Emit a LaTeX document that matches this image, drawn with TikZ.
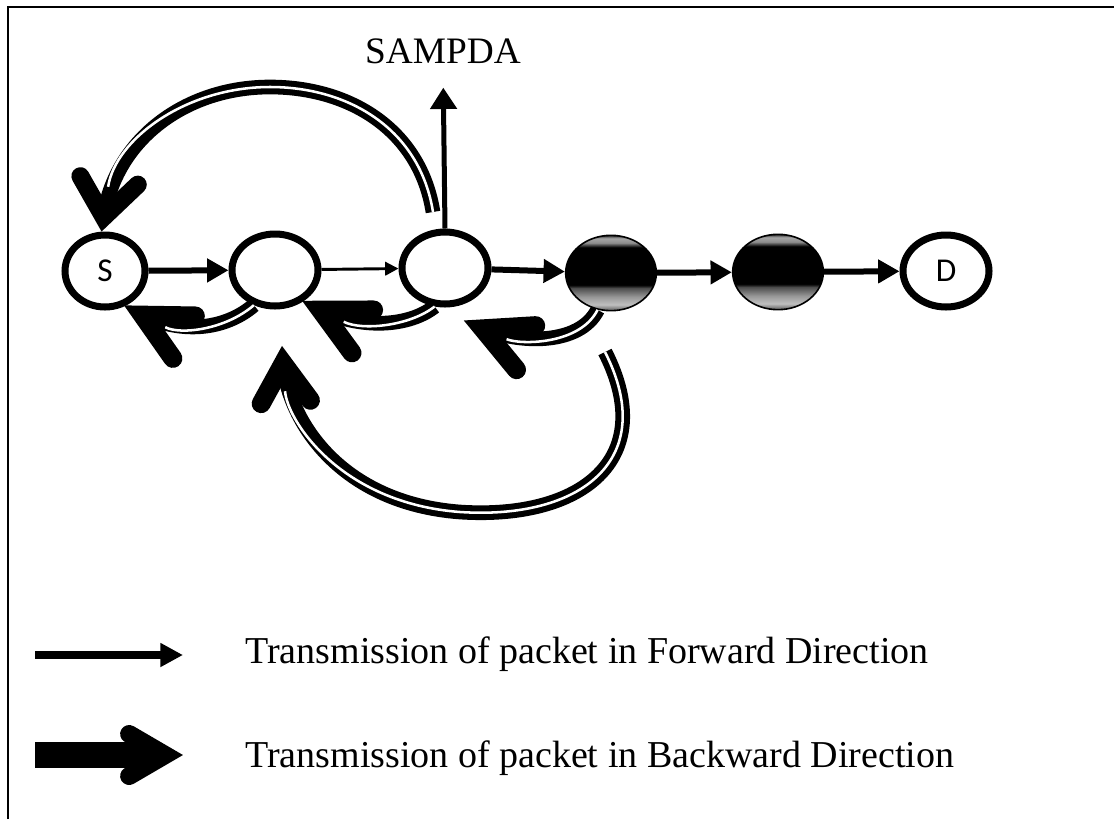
\documentclass[tikz,border=0pt]{standalone}
\usepackage{fontspec}
\setmainfont{Liberation Serif}
\newfontfamily\labelfont{Carlito}
\usetikzlibrary{arrows.meta,shapes.geometric,decorations.markings}

% dark shading for the two busy nodes: grey bands at the rims, black body
\pgfdeclareverticalshading{busyshade}{100bp}{%
  color(0bp)=(black); color(25bp)=(black); color(26bp)=(black!55);
  color(29bp)=(black!25); color(34bp)=(black!40); color(40bp)=(black!70);
  color(42bp)=(black); color(67bp)=(black); color(70bp)=(black!45);
  color(73bp)=(black!35); color(74.5bp)=(black!70); color(75bp)=(black);
  color(100bp)=(black)}

% a backward link: thick black band, thin white core, open barb at the end
\newcommand\backlink[2]{%
  \draw[band] #2;
  \draw[bandcore] #2;
  \path[#1] #2;}

\begin{document}
\begin{tikzpicture}[x=0.75pt, y=-0.75pt,
  peer/.style={ellipse, draw, line width=5.25pt, fill=white, inner sep=0pt,
    minimum width=64.5pt, minimum height=54pt,
    font=\labelfont\fontsize{25}{25}\selectfont},
  busy/.style={ellipse, draw, line width=1.2pt, shading=busyshade, inner sep=0pt,
    minimum width=68pt, minimum height=56.5pt},
  fwd/.style={line width=4.5pt, -{Triangle[length=16pt, width=17pt]}},
  fwdthin/.style={line width=2.2pt, -{Triangle[length=10pt, width=10pt]}},
  upward/.style={line width=3.75pt, -{Triangle[length=16pt, width=19.5pt]}, shorten >=18pt},
  band/.style={line width=11pt, shorten >=11pt},
  bandcore/.style={draw=white, line width=1.9pt, shorten >=34pt},
  % open barb: vertex offset, arm end x, arm half spread, stroke width
  barbtip/.style n args={4}{decorate, decoration={markings,
    mark=at position 0.9999 with {\draw[line width=#4, line cap=round, line join=miter]
      (#2,#3) -- (#1,0pt) -- (#2,-#3);}}},
  barbA/.style={barbtip={-14.7pt}{-50pt}{18pt}{14.25pt}},
  barbD/.style={barbtip={-13.1pt}{-42pt}{18.5pt}{14.25pt}},
  barbE/.style={barbtip={-11pt}{-38.8pt}{21.75pt}{13.5pt}},
  barbL/.style={barbtip={-13.4pt}{-40.4pt}{15.75pt}{13.5pt}},
  frame/.style={line width=2.2pt},
  caption/.style={font=\fontsize{28.5}{34}\selectfont, anchor=base west, inner sep=0pt},
]
\useasboundingbox (0,0) rectangle (1114,819);
\draw[frame] (8,819) -- (8,7) -- (1114,7);

% nodes of the route
\node[peer, minimum width=60pt] (S) at (105,271) {S};
\node[peer] (n2) at (275,270) {};
\node[peer] (n3) at (445,268) {};
\node[busy] (n4) at (611,273) {};
\node[busy] (n5) at (778,272) {};
\node[peer] (D) at (946,271) {D};

\node[font=\fontsize{28}{30}\selectfont, anchor=base, inner sep=0pt] (samp) at (443,63) {SAMPDA};

% forward transmission
\draw[fwd] (S) -- (n2);
\draw[fwdthin] (n2) -- (n3);
\draw[fwd] (n3) -- (n4);
\draw[fwd] (n4) -- (n5);
\draw[fwd] (n5) -- (D);
\draw[upward] (n3.north) -- (samp.south);

% backward transmission
\coordinate (cEnd) at (465,321);
\coordinate (dStart) at (605,352);
\coordinate (dEnd) at (282,346);
\coordinate (eStart) at (433,212);
\backlink{barbA}{(n2.239) .. controls (225,330) and (180,335) .. (S.-60)}
\backlink{barbA}{(n3.255) .. controls (410,326) and (362,331) .. (n2.-48)}
\backlink{barbA}{(n4.250) .. controls (580,345) and (520,345) .. (cEnd)}
\backlink{barbD}{(dStart) .. controls (660,460) and (580,520) .. (460,512)
  .. controls (340,503) and (287,420) .. (dEnd)}
\backlink{barbE}{(eStart) .. controls (420,130) and (350,87) .. (270,87)
  .. controls (185,87) and (115,140) .. (S.95)}

% legend
\coordinate (f0) at (35,655);
\coordinate (f1) at (183,655);
\draw[line width=5.5pt, -{Triangle[length=17pt, width=17pt]}] (f0) -- (f1);
\node[caption] (capF) at (245,663) {Transmission of packet in Forward Direction};
\coordinate (b0) at (35,755);
\coordinate (b1) at (183,755);
\draw[line width=19.5pt, shorten >=17pt] (b0) -- (b1);
\path[barbL] (b0) -- (b1);
\node[caption] (capB) at (245,767) {Transmission of packet in Backward Direction};
\end{tikzpicture}
\end{document}
